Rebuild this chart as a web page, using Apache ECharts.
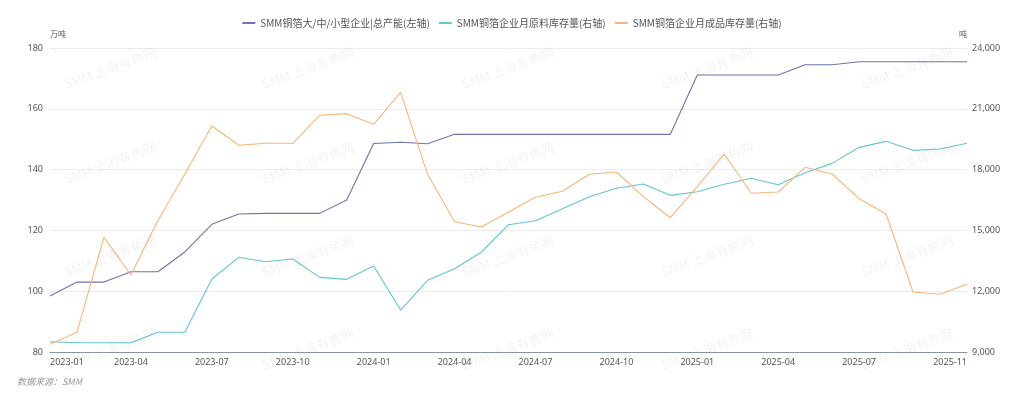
<!DOCTYPE html>
<html><head><meta charset="utf-8">
<script src="https://cdn.jsdelivr.net/npm/echarts@6/dist/echarts.min.js"></script>
<style>html,body{margin:0;padding:0;background:#fff}#c{width:1024px;height:399px}</style>
</head><body><div id="c"></div>
<script>
const months = (function(){const a=[];for(let y=2023;y<=2025;y++){for(let m=1;m<=12;m++){if(y===2025&&m>11)break;a.push(y+'-'+String(m).padStart(2,'0'));}}return a;})();
const seriesNames = ['SMM铜箔大/中/小型企业|总产能(左轴)','SMM铜箔企业月原料库存量(右轴)','SMM铜箔企业月成品库存量(右轴)'];
const capacity = [98.4,103,103,106.4,106.4,112.9,122.0,125.4,125.6,125.6,125.6,130,148.6,149.0,148.5,151.6,151.6,151.6,151.6,151.6,151.6,151.6,151.6,151.6,171.1,171.1,171.1,171.1,174.5,174.5,175.5,175.5,175.5,175.5,175.5];
const rawStock = [9508,9459,9459,9459,9972,9972,12602,13672,13456,13589,12684,12585,13243,11072,12536,13111,13934,15281,15479,16071,16664,17077,17289,16730,16910,17274,17570,17255,17848,18308,19098,19394,18950,19016,19296];
const finishedStock = [9378,9972,14659,12800,15479,17783,20151,19199,19298,19298,20679,20760,20235,21814,17768,15429,15168,15908,16633,16929,17768,17881,16664,15627,17158,18770,16831,16895,18113,17783,16566,15809,11960,11846,12339];
const leftName = '万吨', rightName = '吨';
const sourceText = '数据来源：SMM';
const watermarkText = 'SMM 上海有色网';

const chart = echarts.init(document.getElementById('c'), null, {renderer:'canvas'});
const font = '"Noto Sans CJK SC","Noto Sans",sans-serif';
const colors = ['#7073b0','#64c4d2','#f7b57a'];
const wm = [];
[110,308,508,707,907].forEach(x=>{[68,163,256,349].forEach(y=>{
  wm.push({type:'text',x:x,y:y,rotation:20*Math.PI/180,z:100,silent:true,
    style:{text:watermarkText,fill:'rgba(0,0,0,0.055)',font:'13px '+font,align:'center',verticalAlign:'middle'}});
});});
wm.push({type:'text',left:17,top:377,style:{text:sourceText,fill:'#999',font:'italic 9px '+font}});
chart.setOption({
  color: colors,
  textStyle:{fontFamily:font},
  legend:{top:13,left:'center',itemWidth:13,itemHeight:2,itemGap:9,icon:'rect',
    textStyle:{fontSize:10,color:'#555',fontFamily:font},data:seriesNames},
  grid:{left:50,right:57,top:48,bottom:47,containLabel:false},
  xAxis:{type:'category',data:months,boundaryGap:false,
    axisLine:{lineStyle:{color:'#8a94a6'}},axisTick:{show:false},
    axisLabel:{color:'#555',fontSize:9,margin:6,showMinLabel:true,showMaxLabel:true,
      alignMinLabel:'left',alignMaxLabel:'right',fontFamily:'"Noto Sans",sans-serif',
      interval:function(i){return (i%3===0 && i!==33) || i===34;}}},
  yAxis:[
    {type:'value',min:80,max:180,interval:20,name:leftName,nameGap:10,
      nameTextStyle:{color:'#555',fontSize:8,align:'left'},
      axisLine:{show:false},axisTick:{show:false},
      axisLabel:{color:'#555',fontSize:9,margin:7,fontFamily:'"Noto Sans",sans-serif'},
      splitLine:{lineStyle:{color:'#ececec'}}},
    {type:'value',min:9000,max:24000,interval:3000,name:rightName,nameGap:10,
      nameTextStyle:{color:'#555',fontSize:8,align:'right'},
      axisLine:{show:false},axisTick:{show:false},
      axisLabel:{color:'#555',fontSize:9,margin:5,fontFamily:'"Noto Sans",sans-serif'},
      splitLine:{show:false}}
  ],
  series:[
    {name:seriesNames[0],type:'line',yAxisIndex:0,data:capacity,symbol:'none',lineStyle:{width:1.1}},
    {name:seriesNames[1],type:'line',yAxisIndex:1,data:rawStock,symbol:'none',lineStyle:{width:1.1}},
    {name:seriesNames[2],type:'line',yAxisIndex:1,data:finishedStock,symbol:'none',lineStyle:{width:1.1}}
  ],
  graphic:wm
});
</script></body></html>
